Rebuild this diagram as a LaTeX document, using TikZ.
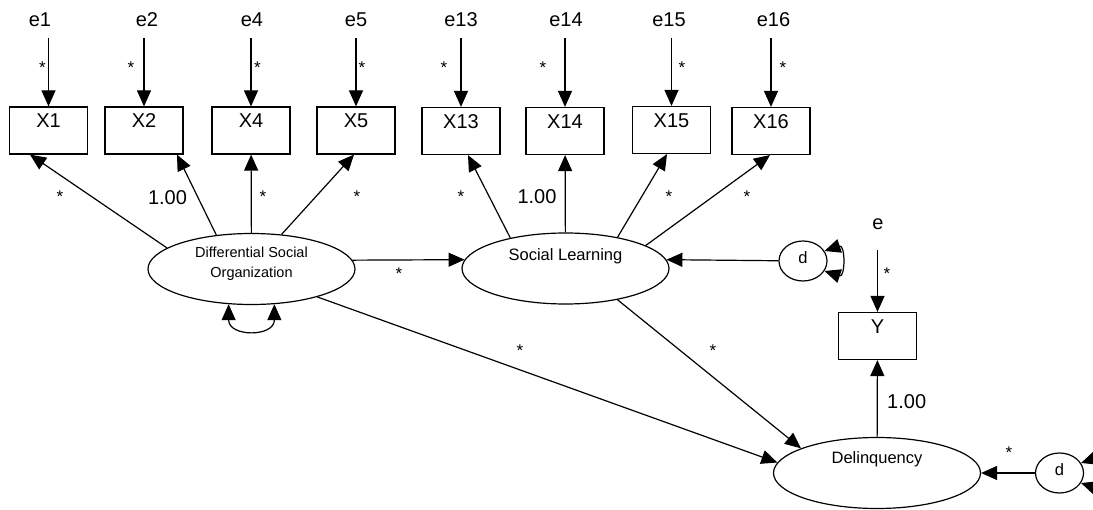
\documentclass[tikz,border=0pt]{standalone}
\usepackage{fontspec}
\setmainfont{Liberation Sans}
\usetikzlibrary{shapes.geometric,arrows.meta,calc}
\newcommand\mylab{\fontsize{20}{24}\selectfont}
\newcommand\mylat{\fontsize{16.5}{19}\selectfont}
\newcommand\mydso{\fontsize{14.5}{19.5}\selectfont}
\newcommand\myres{\fontsize{16.5}{19}\selectfont}
\newcommand\mystar{\fontsize{17}{19}\selectfont}
\begin{document}
\begin{tikzpicture}[x=1pt,y=-1pt,
  obs/.style={draw, rectangle, line width=1.2pt, minimum width=78pt, minimum height=47pt,
              inner sep=0pt, text height=14.3pt, text depth=20.1pt, font=\mylab},
  lat/.style={draw, ellipse, line width=1.2pt, minimum width=207pt, minimum height=71pt,
              inner sep=0pt, font=\mylat},
  res/.style={draw, ellipse, line width=1.2pt, minimum width=48pt, minimum height=40pt,
              inner sep=0pt, text height=12pt, text depth=7.3pt, font=\myres},
  elab/.style={anchor=base, inner sep=0pt, outer ysep=11.5pt, font=\mylab},
  lbl/.style={inner sep=0pt, font=\mystar},
  coef/.style={inner sep=0pt, font=\mylab},
  arr/.style={-{Triangle[length=16pt,width=14pt]}, line width=1.2pt},
  biarr/.style={{Triangle[length=16pt,width=14pt]}-{Triangle[length=16pt,width=14pt]}, line width=1.2pt}
]
\clip (0,0) rectangle (1093,510);
\fill[white] (0,0) rectangle (1093,510);

% observed variables
\node[obs] (X1)  at (48.5,130.5) {X1};
\node[obs] (X2)  at (144,130.5) {X2};
\node[obs] (X4)  at (251,130.5) {X4};
\node[obs] (X5)  at (356,130.5) {X5};
\node[obs] (X13) at (461,131) {X13};
\node[obs] (X14) at (565,131) {X14};
\node[obs] (X15) at (671.5,130) {X15};
\node[obs] (X16) at (771,131) {X16};
\node[obs] (Y)   at (877.5,336) {Y};

% error labels
\node[elab] (e1)  at (40,26.7) {e1};
\node[elab] (e2)  at (147,26.7) {e2};
\node[elab] (e4)  at (252,26.7) {e4};
\node[elab] (e5)  at (356,26.7) {e5};
\node[elab] (e13) at (461,26.7) {e13};
\node[elab] (e14) at (566,26.7) {e14};
\node[elab] (e15) at (669,26.7) {e15};
\node[elab] (e16) at (773.5,26.7) {e16};
\node[elab, outer ysep=20pt] (eY) at (878,230) {e};

% latent variables
\node[lat] (DSO) at (251.5,269) {};
\node[font=\mydso, align=center, inner sep=0pt] (DSOt) at ([yshift=5pt]DSO.center) {Differential Social\\Organization};
\node[lat, text height=12pt, text depth=28.6pt] (SL) at (565.5,268.5) {Social Learning};
\node[lat, text height=12pt, text depth=30.6pt] (Del) at (877,473) {Delinquency};

% disturbances
\node[res] (d1) at (803,261) {d};
\node[res] (d2) at (1059.5,473) {d};

% error arrows
\foreach \e/\x in {e1/X1,e2/X2,e4/X4,e5/X5,e13/X13,e14/X14,e15/X15,e16/X16,eY/Y}
  \draw[arr] (\x.north |- \e.south) -- (\x.north);

% loadings
\draw[arr] (DSO.166) -- ([xshift=-18.5pt]X1.south);
\draw[arr] (DSO.136) -- ([xshift=33pt]X2.south);
\draw[arr] (DSO) -- (X4);
\draw[arr] (DSO.49) -- ([xshift=-2pt]X5.south);
\draw[arr] (SL.151) -- ([xshift=7pt]X13.south);
\draw[arr] (SL) -- (X14);
\draw[arr] (SL.31) -- ([xshift=-4.5pt]X15.south);
\draw[arr] (SL.16) -- ([xshift=-1pt]X16.south);
\draw[arr] (Del) -- (Y);

% structural paths
\draw[arr] (DSO.5) -- (SL.175);
\draw[arr] (d1) -- (SL.5);
\draw[arr] (DSO.-23) -- (Del.174);
\draw[arr] (SL.-31.5) -- (Del.162);
\draw[arr] (d2) -- (Del);

% variances
\draw[biarr] (DSO.237) .. controls ($(DSO.237)+(0,33)$) and ($(DSO.303)+(0,33)$) .. (DSO.303);
\draw[biarr] (d1.25) .. controls ($(d1.25)+(21,-7)$) and ($(d1.-25)+(21,7)$) .. (d1.-25);
\draw[biarr] (d2.25) .. controls ($(d2.25)+(21,-7)$) and ($(d2.-25)+(21,7)$) .. (d2.-25);

% star labels
\node[lbl] (s1)  at (42.5,68) {*};
\node[lbl] (s2)  at (131,68) {*};
\node[lbl] (s4)  at (257.5,68) {*};
\node[lbl] (s5)  at (362,68) {*};
\node[lbl] (s13) at (444,68) {*};
\node[lbl] (s14) at (543,68) {*};
\node[lbl] (s15) at (682,68) {*};
\node[lbl] (s16) at (783,68) {*};
\node[lbl] (sY)  at (887,274) {*};
\node[lbl] (l1)  at (60,197) {*};
\node[lbl] (l4)  at (263,197) {*};
\node[lbl] (l5)  at (357,197) {*};
\node[lbl] (l13) at (461,197) {*};
\node[lbl] (l15) at (669,197) {*};
\node[lbl] (l16) at (747,197) {*};
\node[lbl] (p1)  at (399,274) {*};
\node[lbl] (p2)  at (520,351) {*};
\node[lbl] (p3)  at (713,351) {*};
\node[lbl] (p4)  at (1009,453) {*};

% fixed coefficients
\node[coef] (c2)  at (167.5,197.5) {1.00};
\node[coef] (c14) at (537,197) {1.00};
\node[coef] (cY)  at (906.7,402) {1.00};
\end{tikzpicture}
\end{document}
